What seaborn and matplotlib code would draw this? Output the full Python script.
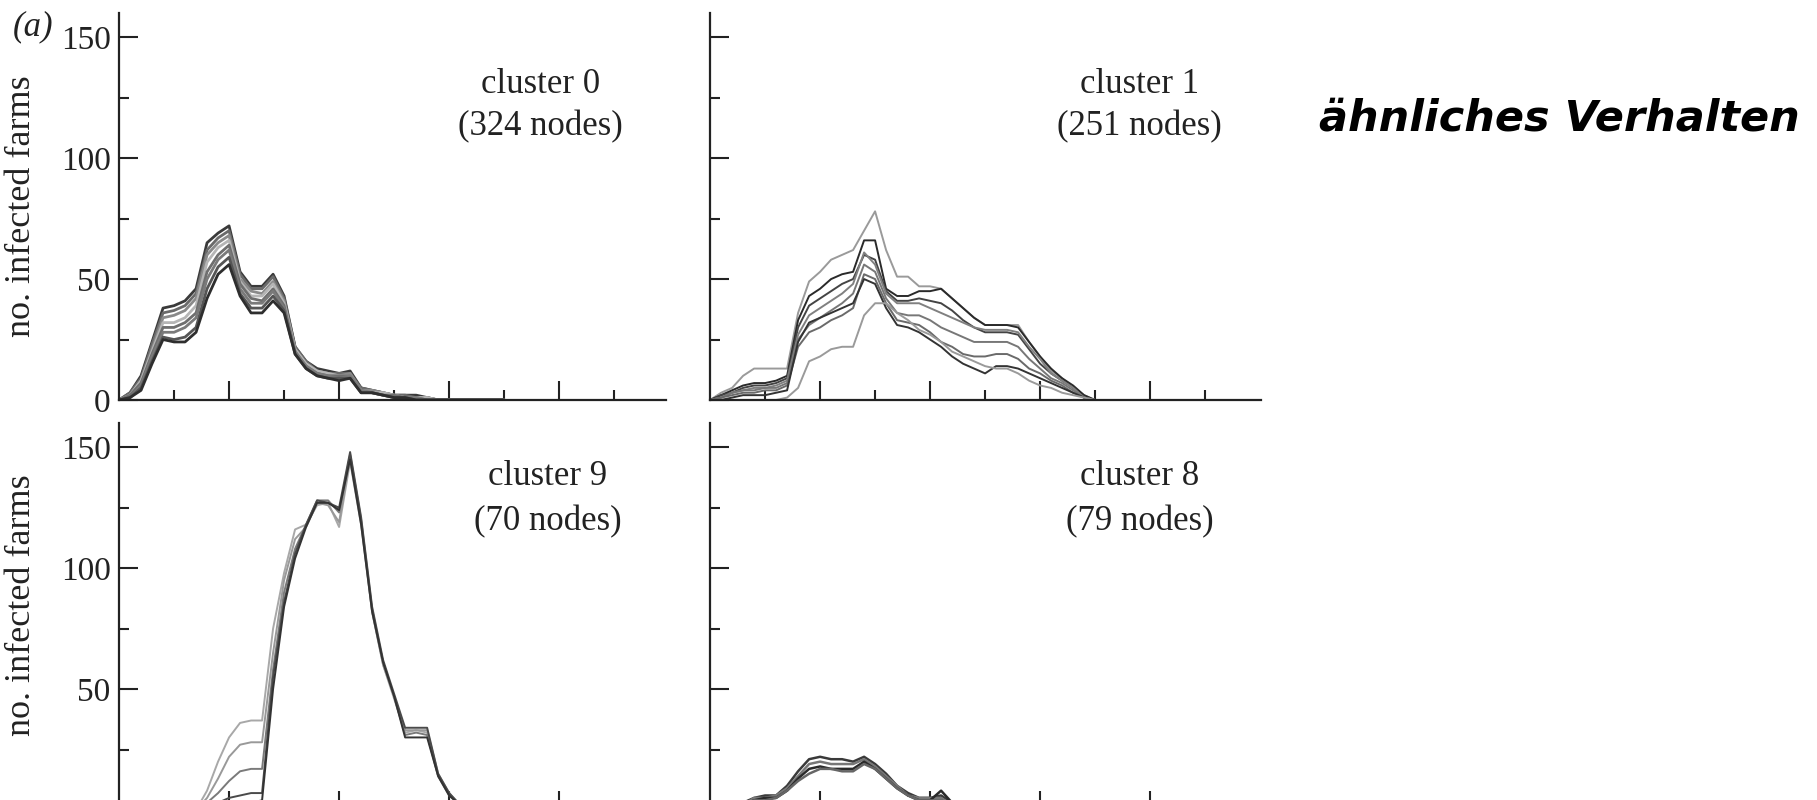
import matplotlib
matplotlib.use("Agg")
import matplotlib.pyplot as plt
from matplotlib.ticker import MultipleLocator, NullFormatter, FixedLocator
import pandas as pd
import seaborn as sns

# time index (weeks) shared by all runs
weeks = list(range(36))

# cluster 0 (324 nodes) - several runs
c0_runs = {
    'A': [0, 3, 10, 24, 38, 39, 41, 46, 65, 69, 72, 53, 47, 47, 52, 43, 22, 16, 13, 12, 11, 12, 5, 4, 3, 2, 2, 2, 1, 0, 0, 0, 0, 0, 0, 0],
    'B': [0, 3, 9, 23, 36, 37, 39, 44, 62, 67, 70, 52, 46, 46, 51, 42, 22, 16, 12, 11, 11, 11, 5, 4, 3, 2, 2, 1, 1, 0, 0, 0, 0, 0, 0, 0],
    'C': [0, 2, 8, 21, 34, 35, 37, 42, 60, 65, 68, 50, 45, 44, 49, 41, 21, 15, 12, 11, 10, 11, 4, 4, 3, 2, 1, 1, 1, 0, 0, 0, 0, 0, 0, 0],
    'D': [0, 2, 8, 20, 32, 32, 34, 39, 57, 63, 66, 49, 43, 43, 48, 40, 21, 15, 12, 11, 10, 10, 4, 3, 3, 2, 1, 1, 1, 0, 0, 0, 0, 0, 0, 0],
    'E': [0, 2, 7, 19, 30, 30, 32, 36, 53, 60, 64, 48, 42, 41, 46, 39, 20, 14, 11, 10, 10, 10, 4, 3, 2, 2, 1, 1, 0, 0, 0, 0, 0, 0, 0, 0],
    'F': [0, 1, 6, 18, 28, 28, 30, 34, 50, 58, 62, 46, 40, 40, 45, 38, 20, 14, 11, 10, 9, 10, 4, 3, 2, 1, 1, 1, 0, 0, 0, 0, 0, 0, 0, 0],
    'G': [0, 1, 5, 16, 26, 25, 26, 30, 46, 55, 59, 44, 38, 38, 43, 37, 19, 13, 10, 9, 9, 9, 3, 3, 2, 1, 1, 0, 0, 0, 0, 0, 0, 0, 0, 0],
    'H': [0, 1, 4, 15, 25, 24, 24, 28, 42, 52, 56, 43, 36, 36, 41, 36, 19, 13, 10, 9, 8, 9, 3, 3, 2, 1, 1, 0, 0, 0, 0, 0, 0, 0, 0, 0],
}
c0_grays = ['#3a3a3a', '#6a6a6a', '#8a8a8a', '#b5b5b5', '#6e6e6e', '#7a7a7a', '#555555', '#2e2e2e']

# cluster 1 (251 nodes)
c1_runs = {
    'A': [0, 3, 5, 10, 13, 13, 13, 13, 36, 49, 53, 58, 60, 62, 70, 78, 62, 51, 51, 47, 47, 46, 42, 38, 34, 31, 31, 31, 31, 24, 18, 12, 9, 5, 2, 0],
    'B': [0, 2, 4, 6, 7, 7, 8, 10, 33, 43, 46, 50, 52, 53, 66, 66, 46, 43, 43, 45, 45, 46, 42, 38, 34, 31, 31, 31, 30, 24, 18, 13, 9, 6, 2, 0],
    'H': [0, 2, 3, 5, 6, 6, 7, 9, 30, 39, 42, 45, 48, 50, 60, 58, 45, 41, 41, 42, 41, 40, 37, 33, 30, 28, 28, 28, 27, 21, 15, 11, 8, 5, 1, 0],
    'C': [0, 1, 3, 4, 5, 5, 6, 8, 27, 35, 38, 41, 44, 48, 61, 56, 44, 40, 40, 40, 38, 36, 34, 32, 30, 29, 29, 29, 28, 22, 17, 11, 8, 5, 1, 0],
    'G': [0, 1, 3, 4, 4, 5, 5, 7, 25, 31, 34, 37, 40, 44, 56, 53, 42, 36, 35, 35, 33, 30, 28, 26, 24, 24, 24, 24, 22, 17, 13, 9, 7, 4, 1, 0],
    'D': [0, 1, 2, 3, 3, 4, 4, 6, 22, 28, 30, 33, 35, 38, 52, 50, 40, 33, 32, 31, 28, 24, 22, 19, 18, 18, 19, 19, 17, 13, 11, 8, 6, 3, 1, 0],
    'E': [0, 0, 1, 2, 2, 2, 3, 4, 24, 32, 34, 36, 38, 40, 50, 48, 38, 31, 30, 28, 25, 22, 18, 15, 13, 11, 14, 14, 13, 11, 9, 7, 5, 3, 1, 0],
    'F': [0, 0, 0, 0, 0, 0, 0, 1, 5, 16, 18, 21, 22, 22, 35, 40, 40, 36, 33, 29, 27, 24, 20, 18, 16, 14, 13, 13, 11, 8, 6, 5, 3, 2, 1, 0],
}
c1_grays = ['#9a9a9a', '#2a2a2a', '#444444', '#808080', '#777777', '#6a6a6a', '#333333', '#9a9a9a']

# cluster 9 (70 nodes)
c9_runs = {
    'A': [0, 0, 0, 0, 0, 0, 0, 0, 8, 20, 30, 36, 37, 37, 75, 98, 116, 118, 126, 127, 117, 144, 118, 82, 60, 46, 32, 33, 32, 14, 7, 2, 0, 0, 0, 0],
    'B': [0, 0, 0, 0, 0, 0, 0, 0, 5, 13, 22, 27, 28, 28, 65, 95, 112, 117, 127, 126, 119, 146, 119, 82, 60, 47, 33, 33, 33, 15, 7, 2, 0, 0, 0, 0],
    'C': [0, 0, 0, 0, 0, 0, 0, 0, 3, 7, 12, 16, 17, 17, 58, 90, 108, 118, 128, 128, 123, 147, 120, 83, 61, 47, 31, 32, 31, 14, 6, 2, 0, 0, 0, 0],
    'D': [0, 0, 0, 0, 0, 0, 0, 0, 1, 3, 5, 6, 7, 7, 55, 86, 106, 118, 128, 127, 125, 148, 121, 84, 62, 48, 34, 34, 34, 15, 7, 2, 0, 0, 0, 0],
    'E': [0, 0, 0, 0, 0, 0, 0, 0, 0, 1, 2, 3, 3, 4, 50, 84, 104, 117, 127, 127, 124, 145, 118, 82, 61, 47, 30, 30, 30, 14, 6, 2, 0, 0, 0, 0],
}
c9_grays = ['#a8a8a8', '#999999', '#7a7a7a', '#4a4a4a', '#333333']

# cluster 8 (79 nodes)
c8_runs = {
    'A': [0, 0, 1, 3, 5, 6, 6, 10, 16, 21, 22, 21, 21, 20, 22, 19, 15, 10, 7, 5, 5, 6, 3, 1, 0, 0, 0, 0, 0, 0, 0, 0, 0, 0, 0, 0],
    'B': [0, 0, 1, 2, 5, 5, 6, 9, 14, 19, 20, 19, 19, 19, 21, 18, 14, 10, 6, 5, 5, 5, 2, 1, 0, 0, 0, 0, 0, 0, 0, 0, 0, 0, 0, 0],
    'C': [0, 0, 0, 2, 4, 5, 5, 8, 13, 17, 18, 17, 17, 17, 20, 17, 13, 9, 6, 4, 4, 8, 3, 1, 0, 0, 0, 0, 0, 0, 0, 0, 0, 0, 0, 0],
    'D': [0, 0, 0, 1, 4, 4, 5, 8, 12, 15, 17, 17, 16, 16, 19, 17, 13, 9, 6, 4, 4, 4, 2, 0, 0, 0, 0, 0, 0, 0, 0, 0, 0, 0, 0, 0],
}
c8_grays = ['#3a3a3a', '#777777', '#2a2a2a', '#666666']

panels = [
    ('cluster 0', '(324 nodes)', c0_runs, c0_grays, 2.0),
    ('cluster 1', '(251 nodes)', c1_runs, c1_grays, 1.4),
    ('cluster 9', '(70 nodes)', c9_runs, c9_grays, 1.4),
    ('cluster 8', '(79 nodes)', c8_runs, c8_grays, 1.8),
]

sns.set_style('ticks')
plt.rcParams['font.family'] = ['Liberation Serif', 'DejaVu Serif']
ink = '#222222'

fig = plt.figure(figsize=(18.17, 8), dpi=100)
boxes = [
    (0.0655, 0.5, 0.3010, 0.48375),
    (0.3908, 0.5, 0.3033, 0.48375),
    (0.0655, -0.0125, 0.3010, 0.48375),
    (0.3908, -0.0125, 0.3033, 0.48375),
]
text_pos = [(0.770, 0.793, 0.685), (0.779, 0.793, 0.685),
            (0.784, 0.840, 0.723), (0.779, 0.840, 0.723)]

for i, (name, nodes, runs, grays, lw) in enumerate(panels):
    ax = fig.add_axes(boxes[i])
    df = pd.DataFrame(runs)
    df['week'] = weeks
    long = df.melt(id_vars='week', var_name='run', value_name='farms')
    sns.lineplot(data=long, x='week', y='farms', hue='run', palette=grays,
                 estimator=None, errorbar=None, legend=False, linewidth=lw, ax=ax)
    ax.set_xlim(0, 49.7 if i % 2 == 0 else 50.1)
    ax.set_ylim(0, 160)
    ax.set_xlabel('')
    sns.despine(ax=ax)
    for side in ['left', 'bottom']:
        ax.spines[side].set_linewidth(1.6)
        ax.spines[side].set_color(ink)
    ax.xaxis.set_major_locator(FixedLocator([10, 20, 30, 40]))
    ax.xaxis.set_minor_locator(FixedLocator([5, 15, 25, 35, 45]))
    if i < 2:
        ax.yaxis.set_major_locator(MultipleLocator(50))
    else:
        # the zero line of the lower row falls just below the page edge
        ax.yaxis.set_major_locator(FixedLocator([50, 100, 150]))
    ax.yaxis.set_minor_locator(FixedLocator([25, 75, 125]))
    ax.tick_params(which='major', direction='in', length=13.5, width=1.5, color=ink,
                   labelsize=24, labelcolor=ink, pad=6)
    ax.tick_params(which='minor', direction='in', length=7, width=1.5, color=ink)
    ax.xaxis.set_major_formatter(NullFormatter())
    if i % 2 == 0:
        ax.set_ylabel('no. infected farms', fontsize=26, color=ink)
        ax.yaxis.set_label_coords(-0.148, 0.5 if i == 0 else 0.53)
    else:
        ax.set_ylabel('')
        ax.yaxis.set_major_formatter(NullFormatter())
    tx, ty1, ty2 = text_pos[i]
    ax.text(tx, ty1, name, transform=ax.transAxes, ha='center', va='baseline',
            fontsize=25, color=ink)
    ax.text(tx, ty2, nodes, transform=ax.transAxes, ha='center', va='baseline',
            fontsize=25, color=ink)

fig.text(0.007, 0.956, '(a)', fontsize=25, style='italic', color=ink, va='baseline')
fig.text(0.858, 0.852, 'ähnliches Verhalten', fontsize=31, style='italic',
         fontweight='bold', family=['DejaVu Sans'], color='black', ha='center', va='center')

fig.savefig('out.png', dpi=100)
